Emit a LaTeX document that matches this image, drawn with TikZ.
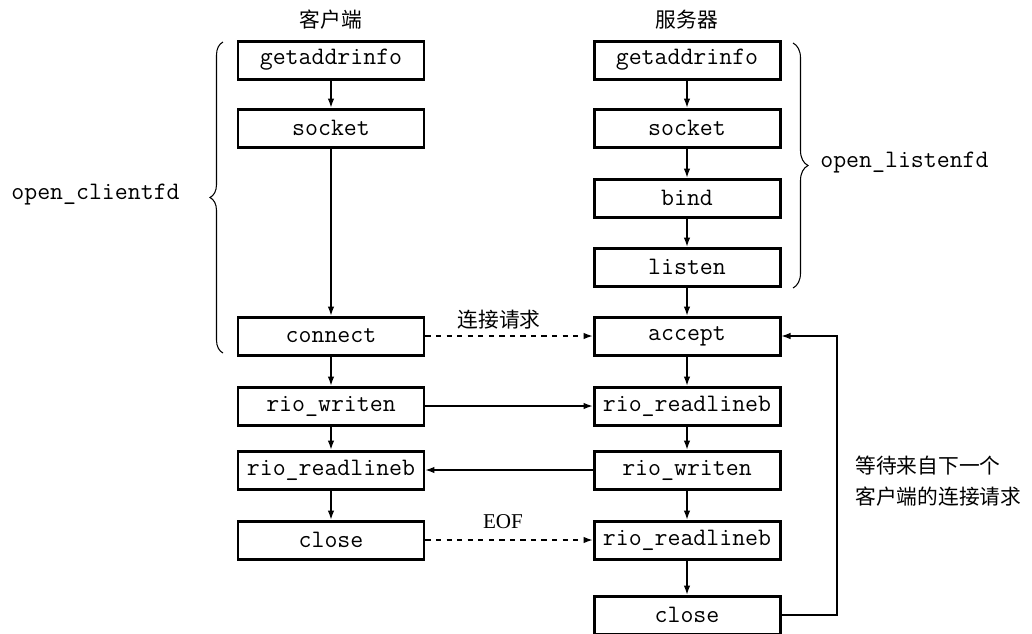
\documentclass[tikz,border=0pt]{standalone}
\usepackage{fontspec}
\setmainfont{Liberation Serif}
\newfontfamily\cjk{Noto Sans CJK SC}
\usetikzlibrary{arrows.meta, positioning, decorations.pathreplacing, calc}

\begin{document}
\begin{tikzpicture}[
    fn/.style={draw, line width=1.7pt, minimum width=3.72cm, minimum height=0.76cm, inner sep=0pt, font=\fontsize{14.3}{16}\ttfamily},
    ar/.style={-{Latex[length=1.8mm,width=1.3mm]}, line width=0.6pt},
    zh/.style={font=\fontsize{11.8}{18}\cjk},
    lbl/.style={inner sep=0pt, font=\fontsize{14.3}{16}\ttfamily}]
  \useasboundingbox (0,0) rectangle (20.64,-12.66);
  % column heads
  \node[zh] (client) at (6.62,-0.4)  {客户端};
  \node[zh] (server) at (13.74,-0.4) {服务器};
  % client side
  \node[fn] (cga) at (6.62,-1.2)  {getaddrinfo};
  \node[fn] (csk) at (6.62,-2.56) {socket};
  \node[fn] (ccn) at (6.62,-6.72) {connect};
  \node[fn] (cwr) at (6.62,-8.12) {rio\_writen};
  \node[fn] (crd) at (6.62,-9.4)  {rio\_readlineb};
  \node[fn] (ccl) at (6.62,-10.8) {close};
  % server side
  \node[fn] (sga)  at (13.74,-1.2)  {getaddrinfo};
  \node[fn] (ssk)  at (13.74,-2.56) {socket};
  \node[fn] (sbd)  at (13.74,-3.96) {bind};
  \node[fn] (sls)  at (13.74,-5.34) {listen};
  \node[fn] (sac)  at (13.74,-6.72) {accept};
  \node[fn] (srd)  at (13.74,-8.12) {rio\_readlineb};
  \node[fn] (swr)  at (13.74,-9.4)  {rio\_writen};
  \node[fn] (srd2) at (13.74,-10.8) {rio\_readlineb};
  \node[fn] (scl)  at (13.74,-12.3) {close};
  % down the columns
  \draw[ar] (cga) -- (csk);
  \draw[ar] (csk) -- (ccn);
  \draw[ar] (ccn) -- (cwr);
  \draw[ar] (cwr) -- (crd);
  \draw[ar] (crd) -- (ccl);
  \draw[ar] (sga) -- (ssk);
  \draw[ar] (ssk) -- (sbd);
  \draw[ar] (sbd) -- (sls);
  \draw[ar] (sls) -- (sac);
  \draw[ar] (sac) -- (srd);
  \draw[ar] (srd) -- (swr);
  \draw[ar] (swr) -- (srd2);
  \draw[ar] (srd2) -- (scl);
  % across
  \draw[ar, dashed] (ccn) -- (sac);
  \node[zh] (req) at (9.98,-6.4) {连接请求};
  \draw[ar] (cwr) -- (srd);
  \draw[ar] (swr) -- (crd);
  \draw[ar, dashed] (ccl) -- (srd2);
  \node[font=\fontsize{12}{14}\selectfont] (eof) at (10.06,-10.44) {EOF};
  % back to accept
  \coordinate (loop) at (16.74,-12.3);
  \draw[ar] (scl.east) -- (loop) |- (sac.east);
  \node[zh, anchor=west, align=left, inner sep=0pt] (wait) at (17.1,-9.62) {等待来自下一个\\客户端的连接请求};
  % braces
  \draw[decorate, decoration={brace, amplitude=0.26cm}, line width=0.6pt] (4.46,-7.06) -- (4.46,-0.84);
  \node[lbl, anchor=east] (clientfd) at (3.6,-3.9) {open\_clientfd};
  \draw[decorate, decoration={brace, amplitude=0.3cm}, line width=0.6pt] (15.86,-0.86) -- (15.86,-5.76);
  \node[lbl, anchor=west] (listenfd) at (16.4,-3.26) {open\_listenfd};
\end{tikzpicture}
\end{document}
